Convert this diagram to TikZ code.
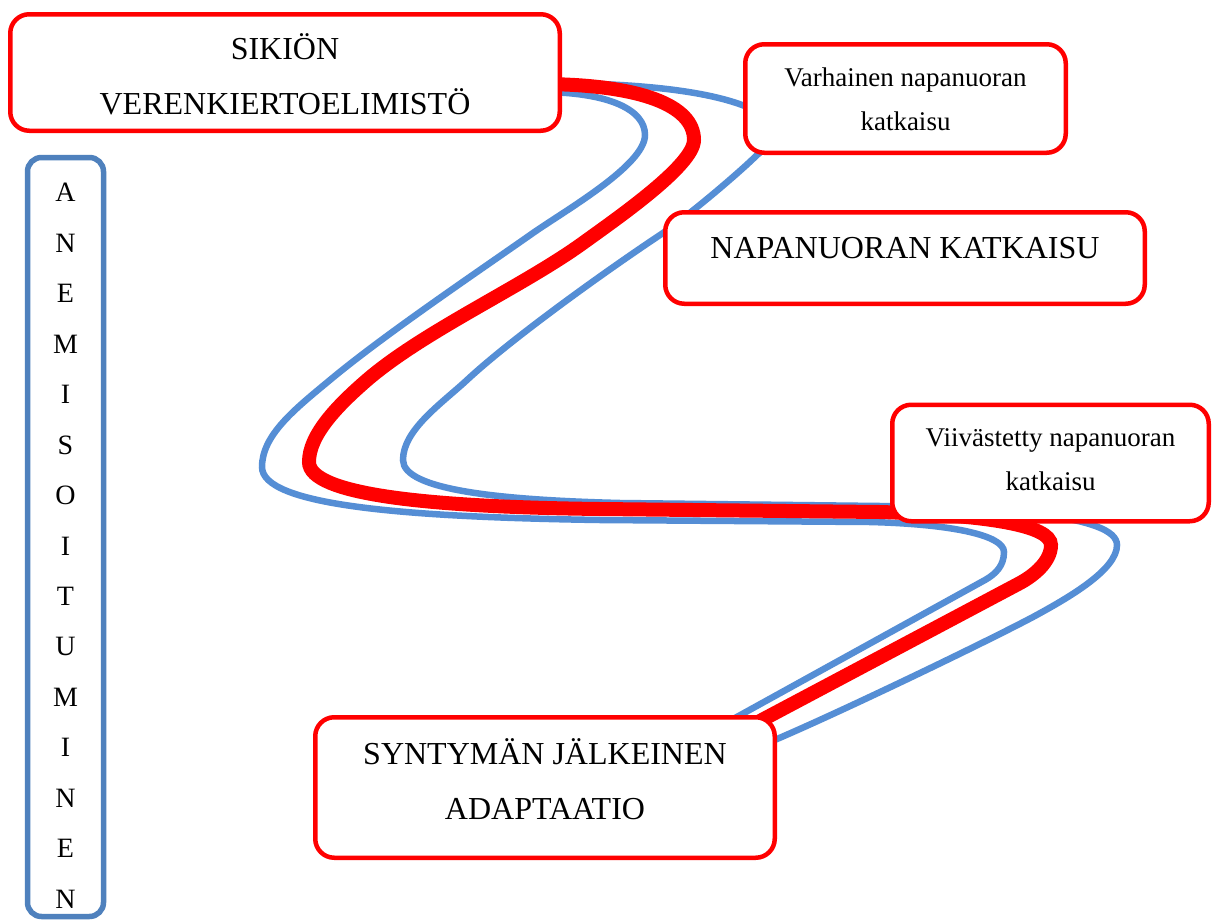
\documentclass[tikz,border=0pt]{standalone}
\usepackage{fontspec}
\setmainfont{Liberation Serif}
\definecolor{boxred}{RGB}{255,0,0}
\definecolor{curveblue}{RGB}{85,142,213}
\definecolor{boxblue}{RGB}{79,129,189}
\begin{document}
\begin{tikzpicture}[x=1pt,y=-1pt,
  rbox/.style={draw=boxred, line width=4.5pt, rounded corners=19pt, fill=white,
    align=center, inner sep=0pt},
  bbox/.style={draw=boxblue, line width=5.5pt, rounded corners=14pt, fill=white,
    align=center, inner sep=0pt},
  bigtext/.style={font=\fontsize{32}{55}\selectfont},
  smalltext/.style={font=\fontsize{27}{44}\selectfont},
  bluecurve/.style={draw=curveblue, line width=6.5pt},
  redcurve/.style={draw=boxred, line width=14pt}]
\useasboundingbox[fill=white] (0,0) rectangle (1219,921);

% curves (drawn first, boxes cover their ends)
\path[bluecurve] (545,92) .. controls (610,93) and (645,110) .. (645,135)
  .. controls (645,165) and (566,210) .. (533,233)
  .. controls (476,273) and (384,335) .. (330,380)
  .. controls (295,409) and (262,435) .. (262,467)
  .. controls (262,505) and (400,517) .. (600,520)
  -- (870,522)
  .. controls (950,524) and (1004,535) .. (1004,552)
  .. controls (1004,566) and (995.5,574) .. (985,580)
  -- (735,718);
\path[bluecurve] (545,83) .. controls (660,83) and (740,95) .. (770,120)
  .. controls (780,130) and (770,145) .. (757,155)
  .. controls (739.5,172.5) and (688,216) .. (663,233)
  .. controls (605,271.5) and (511,339) .. (467,380)
  .. controls (441,404) and (403,430) .. (403,460)
  .. controls (403,490) and (500,500) .. (620,503)
  -- (880,506)
  .. controls (1000,508) and (1117,515) .. (1117,545)
  .. controls (1117,570) and (1068,598) .. (1033,617)
  .. controls (980,645) and (835,714.6) .. (770,742);
\path[redcurve] (545,84) .. controls (640,85) and (694,105) .. (694,140)
  .. controls (694,165) and (619,217) .. (583,243)
  .. controls (522,287) and (424,331) .. (367,380)
  .. controls (337,406) and (309,435) .. (309,462)
  .. controls (309,495) and (430,507) .. (600,509)
  -- (880,512)
  .. controls (985,515) and (1051,525) .. (1051,545)
  .. controls (1051,562) and (1033,576) .. (1020,583)
  -- (760,721);

% boxes
\node[rbox, bigtext, minimum width=549.5pt, minimum height=116.5pt] (b1) at (285,72.5)
  {\rule{0pt}{29pt}SIKIÖN\\VERENKIERTOELIMISTÖ};
\node[rbox, smalltext, minimum width=320.5pt, minimum height=108.5pt] (b2) at (905.5,98.5)
  {\rule{0pt}{20.5pt}Varhainen napanuoran\\katkaisu};
\node[rbox, bigtext, minimum width=479.5pt, minimum height=91.5pt, text depth=20pt] (b3) at (905,258)
  {NAPANUORAN KATKAISU};
\node[rbox, smalltext, minimum width=316.5pt, minimum height=116.5pt] (b4) at (1050.5,463)
  {Viivästetty napanuoran\\katkaisu\rule[-7pt]{0pt}{1pt}};
\node[rbox, bigtext, minimum width=459.5pt, minimum height=140.5pt] (b5) at (545,787.5)
  {SYNTYMÄN JÄLKEINEN\\ADAPTAATIO\rule[-17pt]{0pt}{1pt}};
\node[bbox, font=\fontsize{28}{50.47}\selectfont, minimum width=76pt, minimum height=759pt] (anem) at (65.5,537)
  {\rule{0pt}{36pt}A\\N\\E\\M\\I\\S\\O\\I\\T\\U\\M\\I\\N\\E\\N};
\end{tikzpicture}
\end{document}
